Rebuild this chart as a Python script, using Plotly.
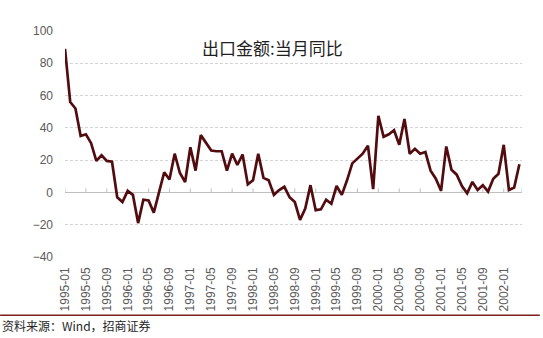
import pandas as pd
import plotly.graph_objects as go

# Monthly export value, year-on-year growth (%), 1995-01 .. 2002-04
months = [p.strftime("%Y-%m") for p in pd.period_range("1995-01", "2002-04", freq="M")]
export_yoy = [
    89, 56, 52, 35, 36, 30.5, 19.5, 23, 19.5, 19, -3, -6,
    1, -1.5, -19, -4.5, -5, -12.5, 0, 12.5, 8, 24, 12, 6.5,
    28, 13.5, 35.5, 31, 26, 25.5, 25.5, 13.5, 24, 17, 23.5, 5,
    7.5, 24, 9, 7.5, -1.5, 1.5, 3.5, -3, -6, -17, -10, 4.5,
    -11, -10.5, -4.5, -7, 4, -1.5, 7.5, 18, 21, 24, 29, 2,
    47.5, 34.5, 36, 38.5, 29.5, 45.5, 24, 27, 24, 25, 13.5, 8.5,
    1, 28.5, 14, 11, 4, -0.5, 6.5, 1.5, 4.5, 0.5, 8.5, 11.5,
    29.5, 1.5, 3, 17.5,
]
y_ticks = [-40, -20, 0, 20, 40, 60, 80, 100]
title_text = "出口金额:当月同比"
source_text = "资料来源：Wind，招商证券"

x_idx = list(range(len(months)))
tick_idx = x_idx[::4]
tick_txt = [months[i] for i in tick_idx]

fig = go.Figure()
fig.add_trace(go.Scatter(
    x=x_idx, y=export_yoy, mode="lines",
    line=dict(color="#520c0f", width=2.7),
    showlegend=False, hoverinfo="skip",
))

# small tick marks sitting on the zero line
for t in tick_idx + [len(months) - 1 + 0.5]:
    fig.add_shape(type="line", xref="x", yref="y", x0=t, x1=t,
                  ysizemode="pixel", yanchor=0, y0=0, y1=4,
                  line=dict(color="#bfbfbf", width=1), layer="below")

# separator rule above the source note
fig.add_shape(type="line", xref="paper", yref="paper",
              x0=-0.142, x1=1.039, y0=-0.258, y1=-0.258,
              line=dict(color="#7b1e1e", width=1.5))

fig.add_annotation(text=title_text, xref="paper", yref="paper",
                   x=0.455, y=0.928, xanchor="center", yanchor="middle",
                   showarrow=False,
                   font=dict(family="Noto Sans CJK SC", size=17, color="#1f1f1f"))
fig.add_annotation(text=source_text, xref="paper", yref="paper",
                   x=-0.142, y=-0.305, xanchor="left", yanchor="middle",
                   showarrow=False,
                   font=dict(family="Noto Sans CJK SC", size=12, color="#262626"))

fig.update_layout(
    width=543, height=338,
    margin=dict(l=65, r=21, t=31, b=81),
    paper_bgcolor="white", plot_bgcolor="white",
    font=dict(family="Liberation Sans, Arial, sans-serif", size=12, color="#595959"),
    xaxis=dict(
        range=[0, len(months) - 0.5],
        tickmode="array", tickvals=tick_idx, ticktext=tick_txt,
        tickangle=-90, ticks="", showgrid=False, showline=False, zeroline=False,
        ticklabelstandoff=7,
    ),
    yaxis=dict(
        range=[-40, 100], tickmode="array", tickvals=y_ticks,
        ticks="", showline=False,
        showgrid=True, gridcolor="#d4d4d4", gridwidth=1, griddash="3px,2px",
        zeroline=True, zerolinecolor="#bfbfbf", zerolinewidth=1,
        ticklabelstandoff=11,
    ),
)

fig.write_html("out.html")
